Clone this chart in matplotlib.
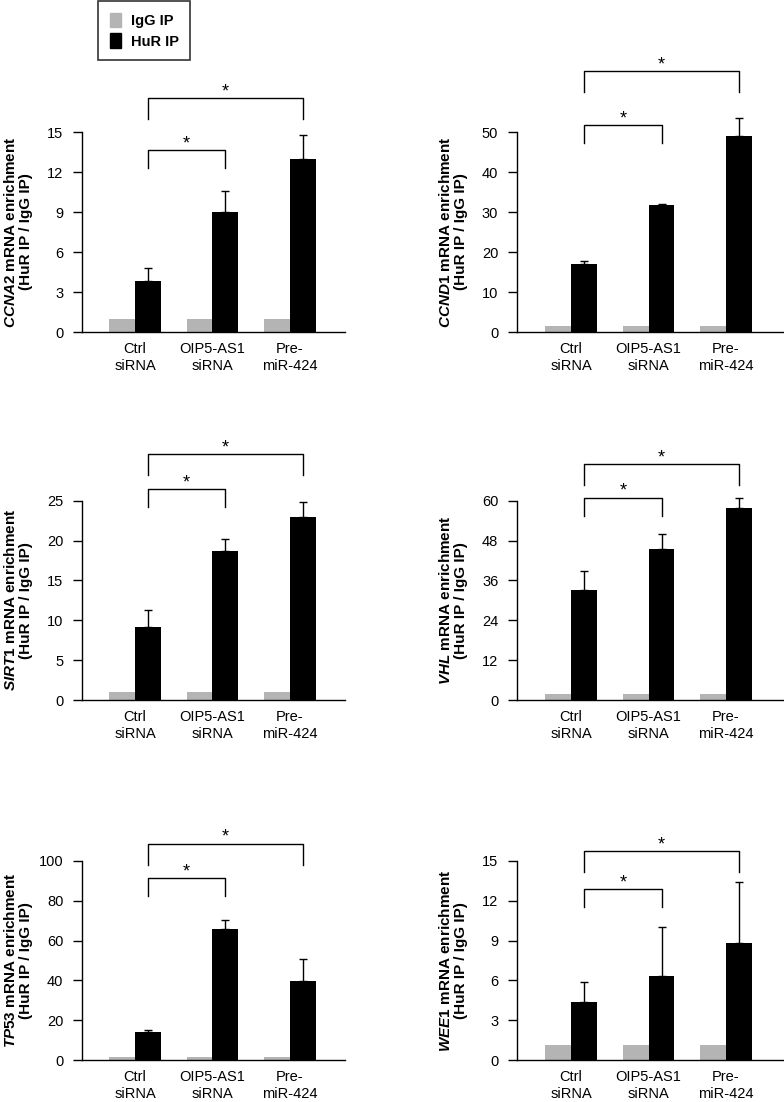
import matplotlib
matplotlib.use('Agg')
import matplotlib.pyplot as plt
import matplotlib.transforms as mtransforms
from matplotlib.patches import Patch
import numpy as np

plt.rcParams['font.family'] = ['Liberation Sans', 'DejaVu Sans']
plt.rcParams['mathtext.fontset'] = 'custom'
plt.rcParams['mathtext.it'] = 'Liberation Sans:italic:bold'
plt.rcParams['mathtext.rm'] = 'Liberation Sans:bold'
plt.rcParams['mathtext.bf'] = 'Liberation Sans:bold'

# data
genes = ['CCNA2', 'CCND1', 'SIRT1', 'VHL', 'TP53', 'WEE1']
conditions = ['Ctrl\nsiRNA', 'OIP5-AS1\nsiRNA', 'Pre-\nmiR-424']
igg_ccna2 = [1.0, 1.0, 1.0]
igg_ccnd1 = [1.5, 1.5, 1.5]
igg_sirt1 = [1.0, 1.0, 1.0]
igg_vhl = [1.7, 1.7, 1.7]
igg_tp53 = [1.3, 1.3, 1.3]
igg_wee1 = [1.15, 1.15, 1.15]
hur_ccna2 = [3.8, 9.0, 13.0]
hur_ccnd1 = [17.1, 31.7, 49.0]
hur_sirt1 = [9.2, 18.7, 23.0]
hur_vhl = [33.1, 45.5, 57.7]
hur_tp53 = [14.0, 65.9, 39.8]
hur_wee1 = [4.4, 6.35, 8.8]
err_ccna2 = [1.0, 1.6, 1.8]
err_ccnd1 = [0.6, 0.3, 4.4]
err_sirt1 = [2.1, 1.5, 1.8]
err_vhl = [5.7, 4.5, 3.0]
err_tp53 = [1.1, 4.7, 11.0]
err_wee1 = [1.5, 3.65, 4.6]
ymax = [15, 50, 25, 60, 100, 15]
ystep = [3, 10, 5, 12, 20, 3]

igg = [igg_ccna2, igg_ccnd1, igg_sirt1, igg_vhl, igg_tp53, igg_wee1]
hur = [hur_ccna2, hur_ccnd1, hur_sirt1, hur_vhl, hur_tp53, hur_wee1]
err = [err_ccna2, err_ccnd1, err_sirt1, err_vhl, err_tp53, err_wee1]

# bracket heights (axes fraction) for the two comparisons
brackets = [(0.91, 1.17), (1.035, 1.305), (1.057, 1.233),
            (1.015, 1.183), (0.913, 1.087), (0.858, 1.048)]

W, H = 784, 1102
fig = plt.figure(figsize=(W / 100, H / 100), dpi=100)

cols = [(82, 263, (-0.684, 2.71)), (517, 266, (-0.697, 2.735))]
rows = [(332, 132), (700, 500.7), (1060, 861)]
gray = '#b4b4b4'
w = 0.335
x = np.arange(3)

for i, gene in enumerate(genes):
    x0, wpx, xl = cols[i % 2]
    bot, top = rows[i // 2]
    ax = fig.add_axes([x0 / W, 1 - bot / H, wpx / W, (bot - top) / H])
    ax.bar(x - w / 2, igg[i], w, color=gray)
    ax.bar(x + w / 2, hur[i], w, color='black')
    eb = ax.errorbar(x + w / 2, hur[i], yerr=[[0, 0, 0], err[i]], fmt='none',
                     ecolor='black', elinewidth=1.0, capsize=2.9, capthick=1.0)
    for art in eb.get_children():
        art.set_clip_on(False)
    ax.set_xlim(xl)
    ax.set_ylim(0, ymax[i])
    ax.set_yticks(np.arange(0, ymax[i] + 1, ystep[i]))
    ax.set_xticks(x)
    ax.set_xticklabels(conditions, fontsize=10.5, linespacing=1.3)
    ax.tick_params(axis='x', length=0, pad=7)
    ax.tick_params(axis='y', length=6.5, width=1.0, pad=7, labelsize=10.5)
    for s in ['top', 'right']:
        ax.spines[s].set_visible(False)
    for s in ['left', 'bottom']:
        ax.spines[s].set_linewidth(1.0)
    ax.set_ylabel('$\\mathit{' + gene + '}$ mRNA enrichment\n(HuR IP / IgG IP)',
                  fontsize=11, fontweight='bold', linespacing=1.05)
    ax.yaxis.set_label_coords(-49 / wpx, 0.5)

    trans = mtransforms.blended_transform_factory(ax.transData, ax.transAxes)
    for k, (target, leg) in enumerate([(1, 0.09), (2, 0.105)]):
        yt = brackets[i][k]
        xa, xb = x[0] + w / 2, x[target] + w / 2
        ax.plot([xa, xa, xb, xb], [yt - leg, yt, yt, yt - leg], color='black',
                lw=1.0, transform=trans, clip_on=False)
        ax.annotate('*', xy=((xa + xb) / 2, yt), xycoords=trans,
                    xytext=(0, 4.5), textcoords='offset points',
                    ha='center', va='center', fontsize=13,
                    annotation_clip=False)

handles = [Patch(color=gray, label='IgG IP'), Patch(color='black', label='HuR IP')]
leg = fig.legend(handles=handles, loc='upper left',
                 bbox_to_anchor=(98 / W, 1 - 1 / H), borderaxespad=0,
                 prop={'weight': 'bold', 'size': 10.5},
                 handlelength=0.75, handleheight=1.17, handletextpad=0.69,
                 labelspacing=0.38, borderpad=0.8, fancybox=False)
leg.get_frame().set_edgecolor('black')
leg.get_frame().set_linewidth(1.2)

fig.savefig('out.png', dpi=100)
